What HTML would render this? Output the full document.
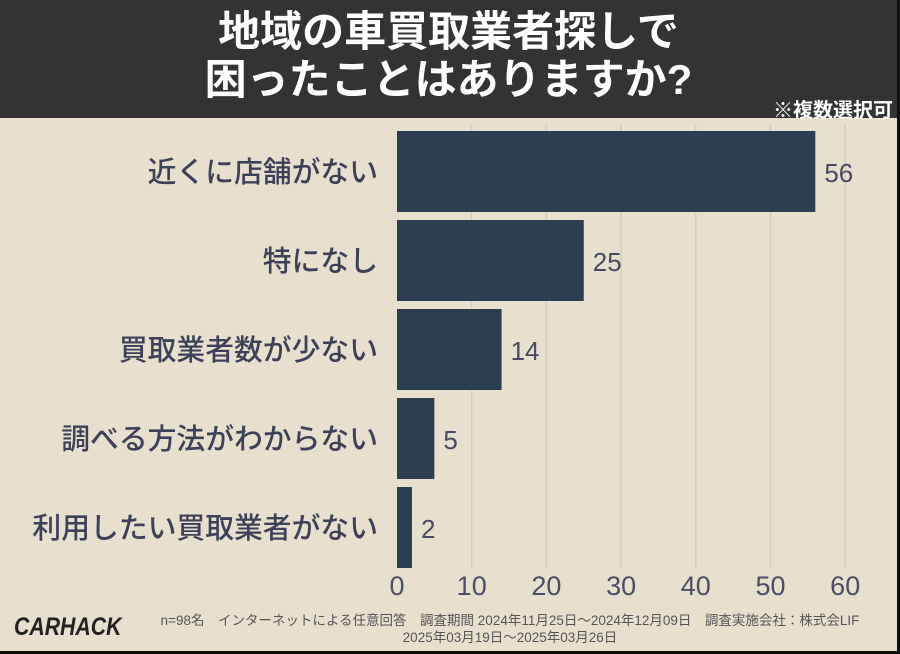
<!DOCTYPE html>
<html><head><meta charset="utf-8"><style>
body{margin:0;width:900px;height:654px;overflow:hidden;background:#111;font-family:"Liberation Sans","Noto Sans CJK JP",sans-serif}
#wrap{position:absolute;left:0;top:0;width:897px;height:651px;background:#e8e0cf}
#hdr{position:absolute;left:0;top:0;width:897px;height:118px;background:#333333}
.t{position:absolute;white-space:nowrap}
</style></head><body>
<div id="wrap">
<div id="hdr"></div>
<div class="t" style="left:0;width:897px;top:8px;text-align:center;color:#fff;font-size:42px;font-weight:bold;line-height:48px">地域の車買取業者探しで<br>困ったことはありますか?</div>
<div class="t" style="right:4px;top:94px;color:#fff;font-size:20px;font-weight:bold">※複数選択可</div>
<svg id="chart" width="897" height="651" style="position:absolute;left:0;top:0"></svg>
<div class="t" style="left:14px;top:613px;font-size:25px;font-weight:bold;font-style:italic;color:#222;transform:scaleX(0.85);transform-origin:left">CARHACK</div>
<div class="t" style="left:150px;top:612px;width:720px;text-align:center;font-size:13.5px;color:#555;line-height:17px">n=98名　インターネットによる任意回答　調査期間 2024年11月25日〜2024年12月09日　調査実施会社：株式会LIF<br>2025年03月19日〜2025年03月26日</div>
</div>
<script>
const categories=["近くに店舗がない","特になし","買取業者数が少ない","調べる方法がわからない","利用したい買取業者がない"];
const values=[56,25,14,5,2];
const ticks=[0,10,20,30,40,50,60];
const svg=document.getElementById('chart');
const NS="http://www.w3.org/2000/svg";
const x=v=>397+v*7.47;
const band=89, top0=128;
const y=i=>top0+i*band;
function mk(t,a){const e=document.createElementNS(NS,t);for(const k in a)e.setAttribute(k,a[k]);svg.appendChild(e);return e;}
ticks.forEach(t=>{
 if(t>0){const g=mk('line',{x1:x(t),x2:x(t),y1:125,y2:568,stroke:'#d6cfbf','stroke-width':1.5});
 
 }
 const l=mk('text',{x:x(t),y:595,'text-anchor':'middle','font-size':27,fill:'#4a4e66'});
 l.textContent=t;
 
 
});
categories.forEach((c,i)=>{
 const b=mk('rect',{x:x(0),y:y(i)+3,width:x(values[i])-x(0),height:81,fill:'#2c3e50'});
 
 
 const cy=y(i)+44;
 const l=mk('text',{x:378,y:cy+10,'text-anchor':'end','font-size':28.8,fill:'#3d4158','font-weight':500});
 l.textContent=c;
 
 
 const v=mk('text',{x:x(values[i])+9,y:cy+10,'font-size':26,fill:'#474b62'});
 v.textContent=values[i];
 
 
});
</script>
</body></html>
